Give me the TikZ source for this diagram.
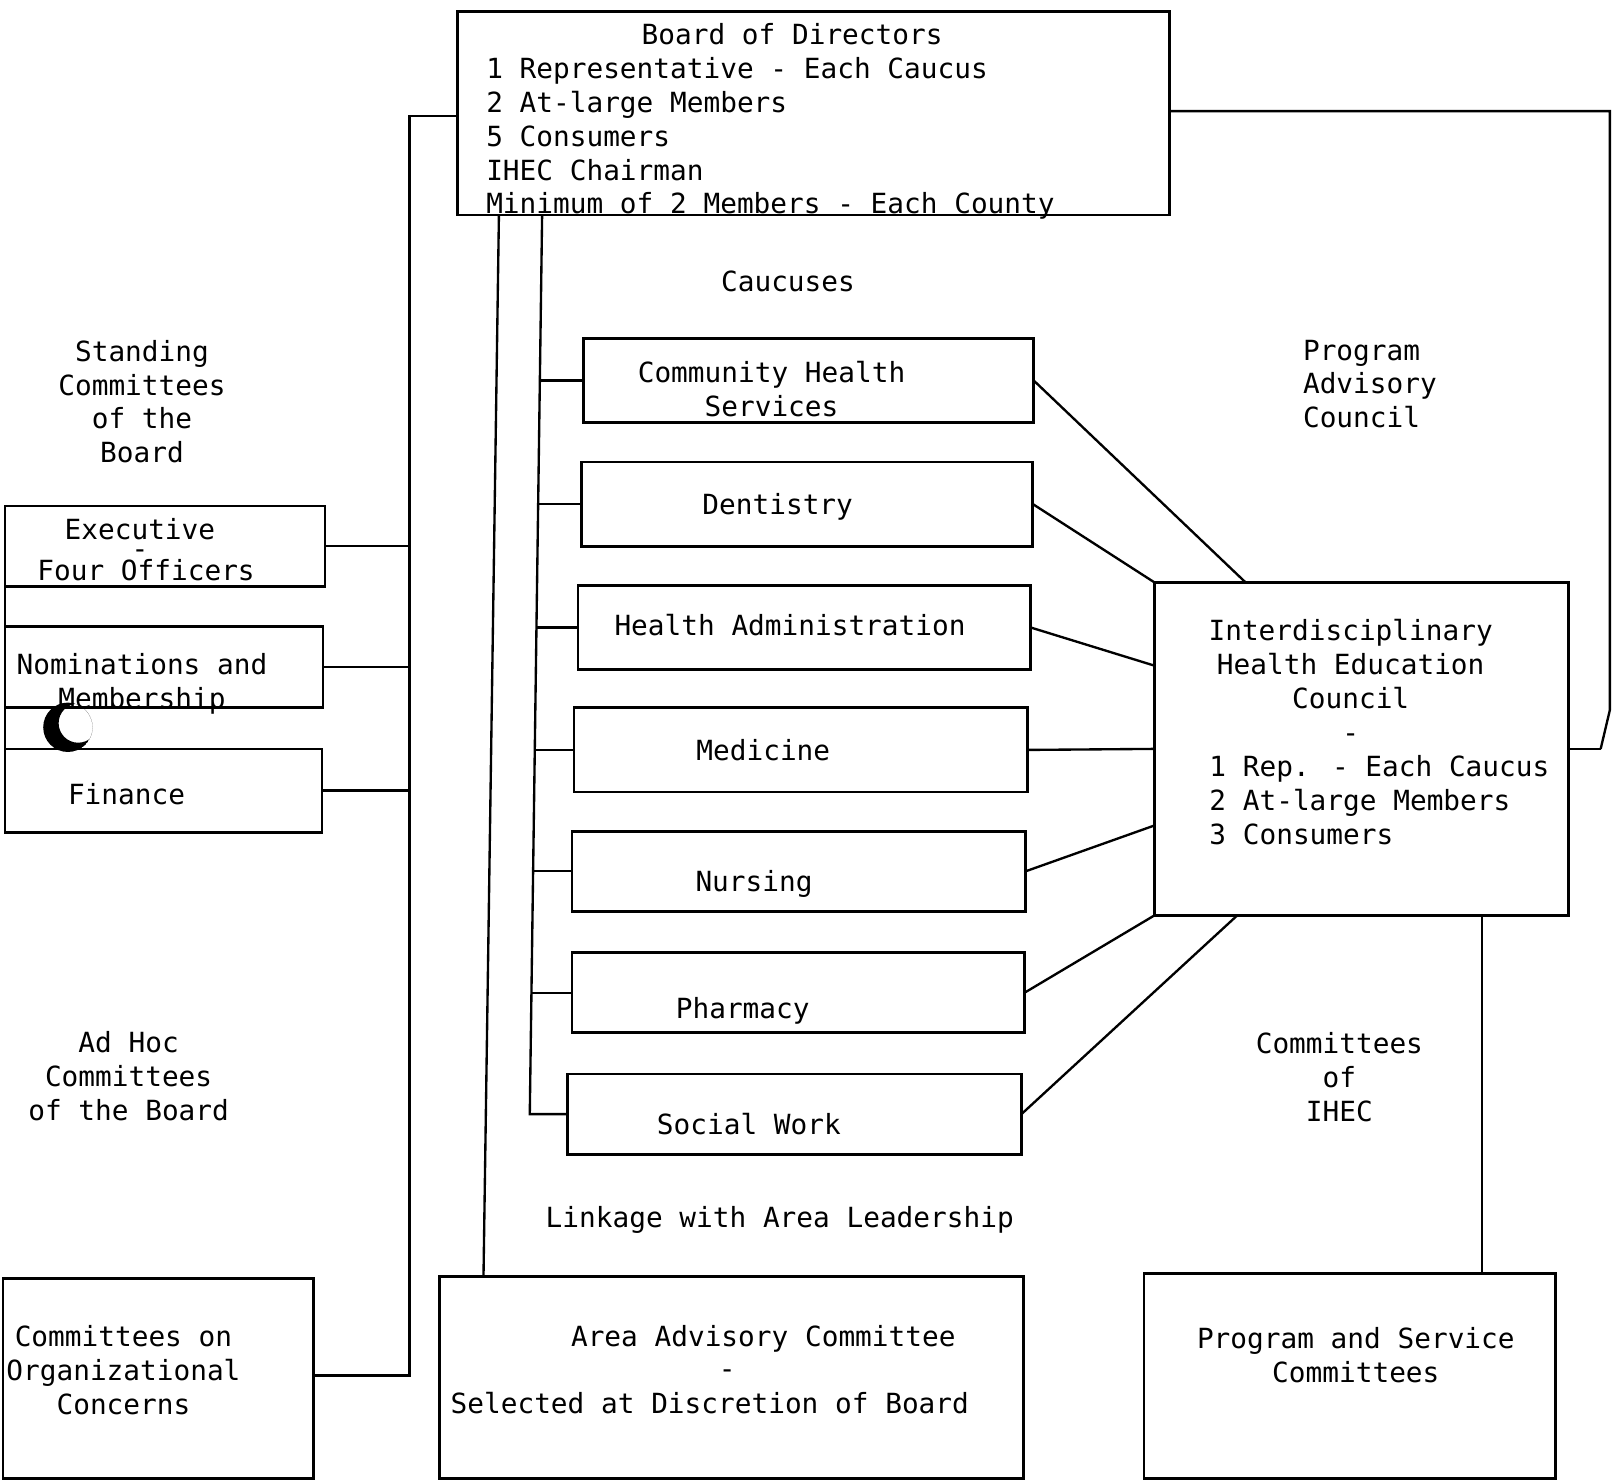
\documentclass[tikz,border=0pt]{standalone}
\usepackage{fontspec}
\newfontfamily\tw{DejaVu Sans Mono}
\usetikzlibrary{fit,calc}
\tikzset{
  box/.style={draw, line width=0.75pt, inner sep=0pt, outer sep=0pt},
  con/.style={line width=0.65pt},
  txt/.style={font=\tw\fontsize{7.68}{9.39}\selectfont, inner sep=0pt, align=center, anchor=base},
  txtl/.style={txt, align=left, anchor=base west},
}
\begin{document}
\begin{tikzpicture}[x=0.1mm, y=-0.1mm]
\fill[white] (0,0) rectangle (1568,1439);
\useasboundingbox (0,0) rectangle (1568,1439);

% ---- boxes
\node[box, fit={(445,11)(1137,209)}] (board) {};
\node[box, fit={(5,492)(316,570)}] (exec) {};
\node[box, fit={(5,609)(314,688)}] (nom) {};
\node[box, fit={(5,728)(313,809)}] (fin) {};
\node[box, fit={(3,1243)(305,1437)}] (org) {};
\node[box, fit={(567,329)(1005,411)}] (chs) {};
\node[box, fit={(565,449)(1004,531)}] (dent) {};
\node[box, fit={(562,569)(1002,651)}] (ha) {};
\node[box, fit={(558,688)(999,770)}] (med) {};
\node[box, fit={(556,808)(997,886)}] (nurs) {};
\node[box, fit={(556,926)(996,1004)}] (pharm) {};
\node[box, fit={(552,1044)(993,1122)}] (sw) {};
\node[box, fit={(1122,566)(1525,890)}] (ihec) {};
\node[box, fit={(427,1241)(995,1437)}] (area) {};
\node[box, fit={(1112,1238)(1512,1437)}] (psc) {};

% ---- texts (base anchor of a multi-line node = baseline of its last line)
\node[txt] (tBoardT) at (770,43) {Board of Directors};
\node[txtl] (tBoardL) at (472,208) {1 Representative - Each Caucus\\2 At-large Members\\5 Consumers\\IHEC Chairman\\Minimum of 2 Members - Each County};
\node[txt] (tCauc) at (766,283) {Caucuses};
\node[txt] (tStand) at (138,450) {Standing\\Committees\\of the\\Board};
\node[txt] (tExec1) at (136,524) {Executive};
\node[txt] (tExecD) at (136,543) {-};
\node[txt] (tExec2) at (142,564) {Four Officers};
\node[txt] (tNom) at (138,689) {Nominations and\\Membership};
\node[txt] (tFin) at (123,782) {Finance};
\node[txt] (tAdHoc) at (125,1089) {Ad Hoc\\Committees\\of the Board};
\node[txt] (tOrg) at (120,1375) {Committees on\\Organizational\\Concerns};
\node[txt] (tCHS) at (750,405) {Community Health\\Services};
\node[txt] (tDent) at (756,500) {Dentistry};
\node[txt] (tHA) at (768,618) {Health Administration};
\node[txt] (tMed) at (742,739) {Medicine};
\node[txt] (tNurs) at (733,867) {Nursing};
\node[txt] (tPharm) at (722,990) {Pharmacy};
\node[txt] (tSW) at (728,1103) {Social Work};
\node[txt] (tLink) at (758,1193) {Linkage with Area Leadership};
\node[txt] (tArea1) at (742,1309) {Area Advisory Committee};
\node[txt] (tAreaD) at (707,1340) {-};
\node[txt] (tArea2) at (690,1374) {Selected at Discretion of Board};
\node[txtl] (tPAC) at (1266,416) {Program\\Advisory\\Council};
\node[txt] (tIHEC1) at (1313,722) {Interdisciplinary\\Health Education\\Council\\-};
\node[txtl] (tIHEC2) at (1175,821) {1 Rep. - Each Caucus\\2 At-large Members\\3 Consumers};
\node[txt] (tCIHEC) at (1302,1090) {Committees\\of\\IHEC};
\node[txt] (tPSC) at (1318,1344) {Program and Service\\Committees};

% ---- left bus (standing / organizational committees)
\coordinate (bl1) at (398,113);
\coordinate (bl2) at (398,1337);
\draw[con] (board.west |- bl1) -- (bl1) -- (bl2) -- (bl2 -| org.east);
\draw[con] (exec.east) -- (exec.east -| bl1);
\draw[con] (nom.east) -- (nom.east -| bl1);
\draw[con] (fin.east) -- (fin.east -| bl1);
\draw[con] (exec.south west) -- (nom.north west);
\draw[con] (nom.south west) -- (fin.north west);

% ---- caucus buses
\coordinate (ca1) at (485,209);
\coordinate (ca2) at (470,1241);
\draw[con] (ca1) -- (ca2);
\coordinate (cb1) at (527,209);
\coordinate (cb2) at (515,1083);
\draw[con] (cb1) -- (cb2) -- (sw.west);
\coordinate (j1) at (524.8,370);
\coordinate (j2) at (523.1,490);
\coordinate (j3) at (521.5,610);
\coordinate (j4) at (519.9,729);
\coordinate (j5) at (518.2,847);
\coordinate (j6) at (516.6,965);
\draw[con] (j1) -- (chs.west);
\draw[con] (j2) -- (dent.west);
\draw[con] (j3) -- (ha.west);
\draw[con] (j4) -- (med.west);
\draw[con] (j5) -- (nurs.west);
\draw[con] (j6) -- (pharm.west);

% ---- caucuses to IHEC
\draw[con] (chs.east) -- ($(ihec.north west)!0.22!(ihec.north east)$);
\draw[con] (dent.east) -- (ihec.north west);
\draw[con] (ha.east) -- ($(ihec.north west)!0.25!(ihec.south west)$);
\draw[con] (med.east) -- (ihec.west);
\draw[con] (nurs.east) -- ($(ihec.north west)!0.73!(ihec.south west)$);
\draw[con] (pharm.east) -- (ihec.south west);
\draw[con] (sw.east) -- ($(ihec.south west)!0.2!(ihec.south east)$);

% ---- program advisory council loop
\coordinate (pr1) at (1565,108);
\coordinate (pr2) at (1565,690);
\coordinate (pj) at (1556,728);
\draw[con] (board.east |- pr1) -- (pr1) -- (pr2) -- (pj);
\draw[con] (ihec.east) -- (pj);

% ---- IHEC to program and service committees
\coordinate (ib) at ($(ihec.south west)!0.79!(ihec.south east)$);
\draw[con] (ib) -- (ib |- psc.north);

% ---- scan mark (crescent)
\begin{scope}
\clip (66,707) circle[radius=2.4mm];
\fill[black, even odd rule] (66,707) circle[radius=2.4mm] (76,703) circle[radius=1.9mm];
\end{scope}
\end{tikzpicture}
\end{document}
